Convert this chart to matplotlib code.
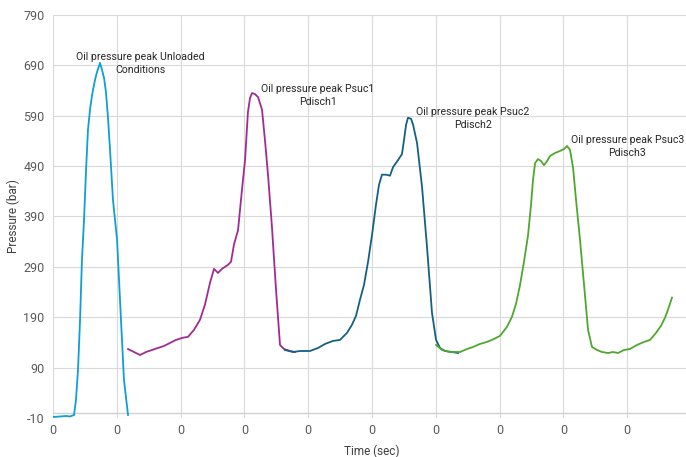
import numpy as np
import matplotlib
matplotlib.use("Agg")
import matplotlib.pyplot as plt
from matplotlib.ticker import FuncFormatter

plt.rcParams['font.family'] = ['Roboto', 'DejaVu Sans']
plt.rcParams['axes.unicode_minus'] = False

# oil pressure traces, time in sec, pressure in bar
t_unloaded = [0.000, 0.0055, 0.0102, 0.0133, 0.0165, 0.0180, 0.0196, 0.0212, 0.0227, 0.0243,
              0.0259, 0.0274, 0.0290, 0.0306, 0.0329, 0.0345, 0.0361, 0.0368, 0.0384, 0.0400,
              0.0415, 0.0431, 0.0447, 0.0470, 0.0502, 0.0525, 0.0556, 0.0588]
p_unloaded = [-8, -7, -6, -7, -4, 26, 86, 185, 304, 383,
              482, 562, 602, 631, 661, 677, 689, 695, 681, 665,
              637, 586, 522, 423, 344, 225, 66, -4]

t_case1 = [0.0588, 0.0635, 0.0682, 0.0729, 0.0776, 0.0823, 0.0870, 0.0917, 0.0964, 0.1011,
           0.1058, 0.1105, 0.1152, 0.1191, 0.1230, 0.1262, 0.1293, 0.1324, 0.1371, 0.1395,
           0.1418, 0.1450, 0.1481, 0.1505, 0.1528, 0.1544, 0.1560, 0.1583, 0.1607, 0.1638,
           0.1661, 0.1685, 0.1716, 0.1748, 0.1779, 0.1810, 0.1857, 0.1897]
p_case1 = [127, 121, 115, 121, 125, 129, 133, 139, 145, 149,
           151, 165, 185, 215, 258, 286, 278, 286, 294, 300,
           334, 363, 443, 502, 598, 625, 635, 633, 627, 602,
           542, 473, 369, 244, 135, 127, 123, 121]

t_case2 = [0.1818, 0.1881, 0.1936, 0.2014, 0.2077, 0.2132, 0.2194, 0.2249, 0.2304, 0.2343,
           0.2375, 0.2406, 0.2437, 0.2469, 0.2500, 0.2531, 0.2555, 0.2578, 0.2610, 0.2641,
           0.2665, 0.2704, 0.2735, 0.2751, 0.2767, 0.2782, 0.2806, 0.2822, 0.2853, 0.2892,
           0.2931, 0.2970, 0.3002, 0.3033, 0.3072, 0.3127, 0.3174]
p_case2 = [125, 121, 123, 123, 129, 137, 143, 145, 159, 175,
           193, 225, 254, 300, 353, 413, 453, 473, 473, 471,
           488, 502, 514, 542, 572, 586, 584, 572, 536, 449,
           330, 199, 145, 129, 123, 121, 119]

t_case3 = [0.3002, 0.3049, 0.3111, 0.3190, 0.3245, 0.3292, 0.3346, 0.3401, 0.3456, 0.3503,
           0.3558, 0.3597, 0.3629, 0.3660, 0.3691, 0.3723, 0.3746, 0.3762, 0.3778, 0.3801,
           0.3825, 0.3848, 0.3872, 0.3895, 0.3934, 0.3973, 0.4005, 0.4029, 0.4052, 0.4076,
           0.4099, 0.4130, 0.4162, 0.4193, 0.4224, 0.4263, 0.4303, 0.4350, 0.4389, 0.4428,
           0.4475, 0.4522, 0.4577, 0.4632, 0.4679, 0.4726, 0.4765, 0.4796, 0.4820, 0.4851]
p_case3 = [135, 125, 121, 121, 127, 131, 137, 141, 147, 153,
           171, 191, 217, 254, 300, 353, 413, 463, 496, 504,
           500, 492, 500, 510, 516, 520, 524, 530, 522, 486,
           423, 344, 254, 165, 131, 125, 121, 119, 121, 119,
           125, 127, 135, 141, 145, 159, 173, 189, 205, 229]

labels = ["Oil pressure peak Unloaded\nConditions",
          "Oil pressure peak Psuc1\nPdisch1",
          "Oil pressure peak Psuc2\nPdisch2",
          "Oil pressure peak Psuc3\nPdisch3"]
label_pos = [(0.0682, 693), (0.2077, 630), (0.329, 584), (0.4500, 529)]

colors = ['#0F9ED5', '#A02B93', '#156082', '#4EA72E']

fig = plt.figure(figsize=(6.86, 4.57), dpi=100)
ax = fig.add_axes([53 / 686, 1 - 418 / 457, 638 / 686, 403 / 457])

series = [(t_unloaded, p_unloaded), (t_case1, p_case1), (t_case2, p_case2), (t_case3, p_case3)]
for (t, p), c in zip(series, colors):
    ax.plot(t, p, color=c, lw=1.3, solid_joinstyle='round')

for txt, (x, y), in zip(labels, label_pos):
    ax.text(x, y, txt, ha='center', va='center', fontsize=7.6, color='#262626', linespacing=1.35)

ax.set_xlim(0, 0.5)
ax.set_ylim(-10, 790)
ax.set_yticks(np.arange(-10, 791, 100))
ax.set_xticks(np.arange(0, 0.46, 0.05))
ax.xaxis.set_major_formatter(FuncFormatter(lambda v, pos: "0"))

ax.grid(True, color='#D9D9D9', lw=0.8)
ax.set_axisbelow(True)
ax.axhline(0, color='#D0D0D0', lw=1.0, zorder=1)
for s in ax.spines.values():
    s.set_visible(False)
ax.tick_params(axis='y', length=0, labelsize=9, colors='#595959', pad=6)
ax.tick_params(axis='x', length=0, labelsize=9, colors='#595959', pad=4)

ax.set_xlabel("Time (sec)", fontsize=8.5, color='#404040', labelpad=6)
ax.set_ylabel("Pressure (bar)", fontsize=8.5, color='#404040', labelpad=2)

fig.savefig("out.png", dpi=100)
